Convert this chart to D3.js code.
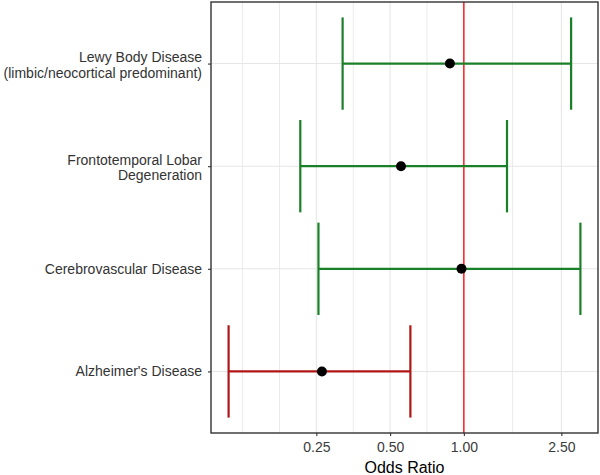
<!DOCTYPE html>
<html>
<head>
<meta charset="utf-8">
<script src="https://cdn.jsdelivr.net/npm/d3@7"></script>
<style>
  html, body { margin: 0; padding: 0; background: #fff; }
  svg { display: block; font-family: "Liberation Sans", Arial, sans-serif; }
</style>
</head>
<body>
<svg id="chart" width="600" height="475"></svg>
<script>
// ---- data (bottom to top order as in the chart) ----
const categories = [
  "Alzheimer's Disease",
  "Cerebrovascular Disease",
  "Frontotemporal Lobar\nDegeneration",
  "Lewy Body Disease\n(limbic/neocortical predominant)"
];
const oddsRatio = [0.2635, 0.978, 0.554, 0.877];
const lowerCI   = [0.1096, 0.255, 0.215, 0.32];
const upperCI   = [0.605, 2.99, 1.50, 2.74];
const significant = [true, false, false, false];
const xTicks = [0.25, 0.5, 1, 2.5];
const xTickLabels = ["0.25", "0.50", "1.00", "2.50"];
const xMinorGrid = [0.125, 0.1768, 0.3536, 0.7071, 1.5811];
const referenceLine = 1;
const xTitle = "Odds Ratio";

const rows = categories.map((c, i) => ({
  cat: c, or: oddsRatio[i], lo: lowerCI[i], hi: upperCI[i], sig: significant[i]
}));

const svg = d3.select("#chart");
const panel = { left: 211, right: 598, top: 2, bottom: 433 };

// log x scale with 5% expansion in log space
const lmin = Math.log10(d3.min(lowerCI)), lmax = Math.log10(d3.max(upperCI));
const ex = (lmax - lmin) * 0.05;
const x = d3.scaleLog()
  .domain([Math.pow(10, lmin - ex), Math.pow(10, lmax + ex)])
  .range([panel.left, panel.right]);

const y = d3.scalePoint()
  .domain(categories.slice().reverse())
  .range([panel.top, panel.bottom])
  .padding(0.6);
const step = y.step();

// grid
const g = svg.append("g");
g.selectAll("line.minor").data(xMinorGrid).join("line")
  .attr("x1", d => x(d)).attr("x2", d => x(d))
  .attr("y1", panel.top).attr("y2", panel.bottom)
  .attr("stroke", "#ebebeb").attr("stroke-width", 1);
g.selectAll("line.major").data(xTicks).join("line")
  .attr("x1", d => x(d)).attr("x2", d => x(d))
  .attr("y1", panel.top).attr("y2", panel.bottom)
  .attr("stroke", "#e6e6e6").attr("stroke-width", 1.1);
g.selectAll("line.hgrid").data(categories).join("line")
  .attr("x1", panel.left).attr("x2", panel.right)
  .attr("y1", d => y(d)).attr("y2", d => y(d))
  .attr("stroke", "#e6e6e6").attr("stroke-width", 1.1);

// reference line
svg.append("line")
  .attr("x1", x(referenceLine)).attr("x2", x(referenceLine))
  .attr("y1", panel.top).attr("y2", panel.bottom)
  .attr("stroke", "#ff0000").attr("stroke-width", 1.3);

// error bars
const colour = d => d.sig ? "#b01616" : "#1a8028";
const eb = svg.append("g").selectAll("g").data(rows).join("g");
eb.append("line")
  .attr("x1", d => x(d.lo)).attr("x2", d => x(d.hi))
  .attr("y1", d => y(d.cat)).attr("y2", d => y(d.cat))
  .attr("stroke", colour).attr("stroke-width", 2.2);
eb.append("line")
  .attr("x1", d => x(d.lo)).attr("x2", d => x(d.lo))
  .attr("y1", d => y(d.cat) - step * 0.45).attr("y2", d => y(d.cat) + step * 0.45)
  .attr("stroke", colour).attr("stroke-width", 2.2);
eb.append("line")
  .attr("x1", d => x(d.hi)).attr("x2", d => x(d.hi))
  .attr("y1", d => y(d.cat) - step * 0.45).attr("y2", d => y(d.cat) + step * 0.45)
  .attr("stroke", colour).attr("stroke-width", 2.2);
eb.append("circle")
  .attr("cx", d => x(d.or)).attr("cy", d => y(d.cat))
  .attr("r", 5).attr("fill", "#000");

// panel border
svg.append("rect")
  .attr("x", panel.left).attr("y", panel.top)
  .attr("width", panel.right - panel.left).attr("height", panel.bottom - panel.top)
  .attr("fill", "none").attr("stroke", "#333").attr("stroke-width", 1.4);

// x axis
const xAxis = d3.axisBottom(x).tickValues(xTicks)
  .tickFormat((d, i) => xTickLabels[i]).tickSize(3).tickPadding(6);
const xa = svg.append("g").attr("transform", `translate(0,${panel.bottom})`).call(xAxis);
xa.select(".domain").remove();
xa.selectAll(".tick line").attr("stroke", "#333").attr("stroke-width", 1.1);
xa.selectAll(".tick text").attr("fill", "#3a3a3a")
  .style("font-size", "14px").style("font-family", "'Liberation Sans', Arial, sans-serif");

// y axis
const yAxis = d3.axisLeft(y).tickSize(3).tickFormat("");
const ya = svg.append("g").attr("transform", `translate(${panel.left},0)`).call(yAxis);
ya.select(".domain").remove();
ya.selectAll(".tick line").attr("stroke", "#333").attr("stroke-width", 1.1);

const labels = svg.append("g").selectAll("text").data(categories).join("text")
  .attr("text-anchor", "end")
  .attr("fill", "#333")
  .style("font-size", "14px")
  .attr("transform", d => `translate(${panel.left - 9},${y(d)})`);
labels.each(function(d) {
  const lines = d.split("\n");
  const t = d3.select(this);
  if (lines.length === 1) {
    t.append("tspan").attr("x", 0).attr("y", 5).text(lines[0]);
  } else {
    lines.forEach((l, i) => t.append("tspan").attr("x", 0).attr("y", -1.5 + i * 15.5).text(l));
  }
});

// x title
svg.append("text")
  .attr("x", (panel.left + panel.right) / 2).attr("y", 472.5)
  .attr("text-anchor", "middle").attr("fill", "#000")
  .style("font-size", "16px")
  .text(xTitle);
</script>
</body>
</html>
